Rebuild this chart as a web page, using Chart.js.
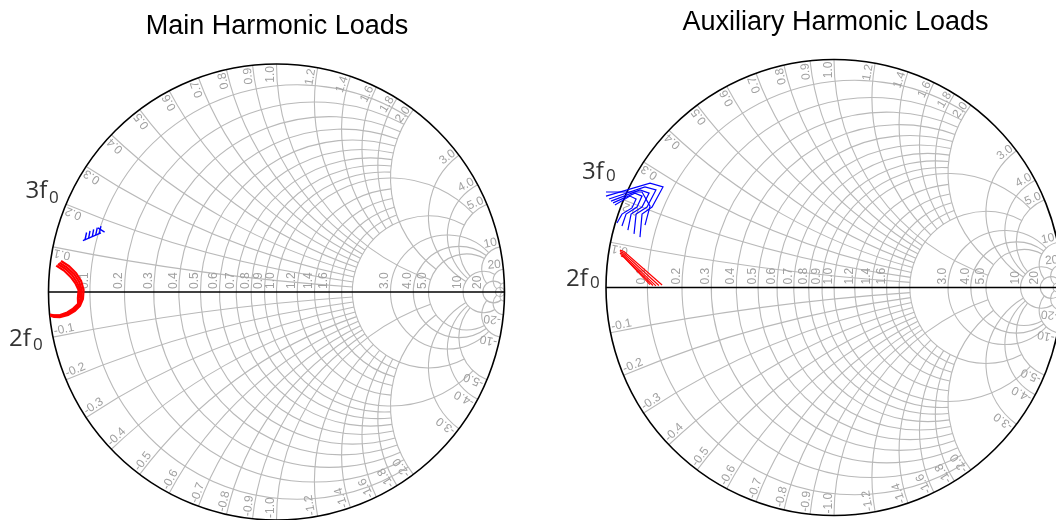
<!DOCTYPE html>
<html>
<head>
<meta charset="utf-8">
<title>Harmonic Loads</title>
<script src="https://cdn.jsdelivr.net/npm/chart.js@4.4.1/dist/chart.umd.min.js"></script>
<style>
  html, body { margin: 0; padding: 0; background: #fff; }
  #page { position: relative; width: 1056px; height: 520px; overflow: hidden; }
  canvas { position: absolute; top: 0; }
  #mainCanvas { left: 0; }
  #auxCanvas { left: 540px; }
  .title { position: absolute; font-family: "Liberation Sans", Arial, sans-serif; font-size: 27px; line-height: 27px; color: #000; white-space: nowrap; transform: translateX(-50%); }
  .harm { position: absolute; font-family: "Open Sans", sans-serif; font-size: 24px; line-height: 24px; color: #333; white-space: nowrap; }
  .harm.sub { font-size: 17px; line-height: 17px; }
</style>
</head>
<body>
<div id="page">
  <canvas id="mainCanvas" width="540" height="520"></canvas>
  <canvas id="auxCanvas" width="516" height="520"></canvas>
  <div class="title" style="left:277px;top:11.5px">Main Harmonic Loads</div>
  <div class="title" style="left:835.5px;top:7.5px">Auxiliary Harmonic Loads</div>
  <div class="harm" style="left:25.5px;top:177px">3f</div><div class="harm sub" style="left:49px;top:188px">0</div>
  <div class="harm" style="left:9px;top:325px">2f</div><div class="harm sub" style="left:33px;top:335px">0</div>
  <div class="harm" style="left:582px;top:158px">3f</div><div class="harm sub" style="left:606px;top:166px">0</div>
  <div class="harm" style="left:566px;top:265px">2f</div><div class="harm sub" style="left:590px;top:273px">0</div>
</div>
<script>
// Smith chart grid: circle values and where each circle / arc stops
const gridValues = [50, 20, 10, 5, 4, 3, 2, 1.8, 1.6, 1.4, 1.2, 1, 0.9, 0.8, 0.7, 0.6, 0.5, 0.4, 0.3, 0.2, 0.1];
const gridLimits = [Infinity, 50, 20, 10, 10, 10, 5, 2, 2, 2, 2, 5, 2, 2, 2, 2, 2, 2, 2, 2, 2];
const axisLabels = [0.1, 0.2, 0.3, 0.4, 0.5, 0.6, 0.7, 0.8, 0.9, 1, 1.2, 1.4, 1.6, 3, 4, 5, 10, 20];
const rimLabels = [0.1, 0.2, 0.3, 0.4, 0.5, 0.6, 0.7, 0.8, 0.9, 1, 1.2, 1.4, 1.6, 1.8, 2, 3, 4, 5, 10, 20];

// Main amplifier, second harmonic load sweeps (reflection coefficient)
const main2fRe = [
  [-0.945, -0.910, -0.879, -0.857, -0.846, -0.849, -0.862, -0.884, -0.914, -0.950, -0.976, -0.993],
  [-0.952, -0.918, -0.887, -0.866, -0.854, -0.856, -0.865, -0.886, -0.915, -0.950, -0.976, -0.993],
  [-0.959, -0.925, -0.895, -0.874, -0.861, -0.862, -0.867, -0.889, -0.916, -0.950, -0.976, -0.993],
  [-0.966, -0.932, -0.903, -0.882, -0.868, -0.871, -0.870, -0.892, -0.918, -0.949, -0.976, -0.993]
];
const main2fIm = [
  [0.136, 0.114, 0.083, 0.048, 0.009, -0.031, -0.061, -0.083, -0.101, -0.110, -0.109, -0.104],
  [0.129, 0.107, 0.078, 0.045, 0.009, -0.029, -0.058, -0.080, -0.097, -0.106, -0.106, -0.102],
  [0.123, 0.101, 0.072, 0.041, 0.009, -0.028, -0.055, -0.078, -0.096, -0.104, -0.104, -0.100],
  [0.116, 0.094, 0.066, 0.038, 0.009, -0.027, -0.052, -0.073, -0.090, -0.101, -0.102, -0.099]
];
// Main amplifier, third harmonic loads
const main3fRe = [
  [-0.849, -0.770], [-0.840, -0.833], [-0.824, -0.818], [-0.808, -0.802],
  [-0.793, -0.786], [-0.777, -0.770], [-0.783, -0.754]
];
const main3fIm = [
  [0.225, 0.259], [0.228, 0.261], [0.235, 0.268], [0.242, 0.275],
  [0.249, 0.282], [0.256, 0.289], [0.281, 0.263]
];
// Auxiliary amplifier, second harmonic loads
const aux2fRe = [
  [-0.939, -0.921, -0.754], [-0.939, -0.923, -0.768], [-0.939, -0.925, -0.781],
  [-0.936, -0.925, -0.794], [-0.934, -0.923, -0.807]
];
const aux2fIm = [
  [0.164, 0.158, 0.011], [0.158, 0.151, 0.009], [0.151, 0.145, 0.007],
  [0.145, 0.138, 0.009], [0.138, 0.134, 0.013]
];
// Auxiliary amplifier, third harmonic loads
const aux3fRe = [
  [-1.000, -0.807, -0.750, -0.798, -0.842, -0.851],
  [-0.987, -0.829, -0.781, -0.820, -0.868, -0.877],
  [-0.978, -0.851, -0.811, -0.842, -0.890, -0.904],
  [-0.969, -0.873, -0.842, -0.864, -0.912, -0.930],
  [-0.961, -0.895, -0.868, -0.886, -0.930, -0.952],
  [-1.000, -0.842, -0.807, -0.829]
];
const aux3fIm = [
  [0.401, 0.458, 0.441, 0.353, 0.322, 0.221],
  [0.388, 0.441, 0.428, 0.353, 0.322, 0.235],
  [0.379, 0.428, 0.414, 0.353, 0.322, 0.252],
  [0.371, 0.414, 0.401, 0.353, 0.322, 0.270],
  [0.362, 0.401, 0.388, 0.349, 0.322, 0.283],
  [0.419, 0.419, 0.357, 0.274]
];

function fmt(v) { return v >= 10 ? String(v) : v.toFixed(1); }
// reflection coefficient of a normalised impedance r + jx
function gamma(r, x) {
  const d = (r + 1) * (r + 1) + x * x;
  return { re: (r * r - 1 + x * x) / d, im: 2 * x / d };
}

const smithGrid = {
  id: 'smithGrid',
  beforeDatasetsDraw(chart) {
    const ctx = chart.ctx, sx = chart.scales.x, sy = chart.scales.y;
    const ox = sx.getPixelForValue(0), oy = sy.getPixelForValue(0);
    const k = sx.getPixelForValue(1) - ox;
    const P = (re, im) => [sx.getPixelForValue(re), sy.getPixelForValue(im)];
    const arcBetween = (cRe, cIm, rad, s, e) => {
      let d = e - s;
      while (d > Math.PI) d -= 2 * Math.PI;
      while (d <= -Math.PI) d += 2 * Math.PI;
      const [cx, cy] = P(cRe, cIm);
      ctx.beginPath();
      ctx.arc(cx, cy, rad * k, -s, -e, d > 0);
      ctx.stroke();
    };
    ctx.save();
    ctx.strokeStyle = '#b9b9b9';
    ctx.lineWidth = 1.1;
    gridValues.forEach((v, i) => {
      const lim = gridLimits[i];
      // constant resistance circle
      const c = v / (1 + v), rad = 1 / (1 + v);
      const [cx, cy] = P(c, 0);
      ctx.beginPath();
      if (!isFinite(lim)) {
        ctx.arc(cx, cy, rad * k, 0, 2 * Math.PI);
      } else {
        const g = gamma(v, lim);
        const a = Math.atan2(g.im, g.re - c);
        ctx.arc(cx, cy, rad * k, -a, a, true);
      }
      ctx.stroke();
      // constant reactance arcs, both signs
      [1, -1].forEach(sgn => {
        const x = sgn * v, cIm = 1 / x, rr = Math.abs(1 / x);
        const g0 = gamma(0, x);
        const g1 = isFinite(lim) ? gamma(lim, x) : { re: 1, im: 0 };
        arcBetween(1, cIm, rr, Math.atan2(g0.im - cIm, g0.re - 1), Math.atan2(g1.im - cIm, g1.re - 1));
      });
    });

    // value labels
    ctx.fillStyle = '#a0a0a0';
    ctx.font = '12px "Liberation Sans", Arial, sans-serif';
    ctx.textBaseline = 'alphabetic';
    axisLabels.forEach(v => {
      ctx.save();
      ctx.translate(sx.getPixelForValue((v - 1) / (v + 1)), oy);
      ctx.rotate(-Math.PI / 2);
      ctx.textAlign = 'left';
      ctx.fillText(fmt(v), 3, -2);
      ctx.restore();
    });
    rimLabels.forEach(v => {
      const g = gamma(0, v);
      const th = Math.atan2(g.im, g.re);
      ctx.save();
      ctx.translate(ox, oy);
      ctx.rotate(-th);
      ctx.textAlign = 'right';
      ctx.fillText(fmt(v), k - 2, -2);
      ctx.restore();
      ctx.save();
      ctx.translate(ox, oy);
      ctx.rotate(th - Math.PI);
      ctx.textAlign = 'left';
      ctx.fillText('-' + fmt(v), -k + 2, -2);
      ctx.restore();
    });

    // real axis and unit circle
    ctx.strokeStyle = '#000';
    ctx.lineWidth = 1.3;
    ctx.beginPath();
    ctx.moveTo(...P(-1, 0));
    ctx.lineTo(...P(1, 0));
    ctx.stroke();
    ctx.lineWidth = 1.6;
    ctx.beginPath();
    ctx.arc(ox, oy, k, 0, 2 * Math.PI);
    ctx.stroke();
    ctx.restore();
  }
};

function traces(reList, imList, color, width) {
  return reList.map((re, t) => ({
    data: re.map((r, j) => ({ x: r, y: imList[t][j] })),
    showLine: true,
    borderColor: color,
    backgroundColor: color,
    borderWidth: width,
    pointRadius: 0,
    tension: 0,
    fill: false
  }));
}

function smithChart(id, datasets, xr, yr) {
  return new Chart(document.getElementById(id), {
    type: 'scatter',
    data: { datasets },
    options: {
      responsive: false,
      animation: false,
      events: [],
      layout: { padding: 0, autoPadding: false },
      plugins: { legend: { display: false }, tooltip: { enabled: false }, title: { display: false } },
      scales: {
        x: { type: 'linear', display: false, min: xr[0], max: xr[1], grace: 0 },
        y: { type: 'linear', display: false, min: yr[0], max: yr[1], grace: 0 }
      }
    },
    plugins: [smithGrid]
  });
}

// 228 px per unit of reflection coefficient on both charts
smithChart('mainCanvas',
  [...traces(main2fRe, main2fIm, '#ff0000', 2.2), ...traces(main3fRe, main3fIm, '#0000ff', 1.4)],
  [-1.2127, 1.1557], [-1.0, 1.2807]);
smithChart('auxCanvas',
  [...traces(aux2fRe, aux2fIm, '#ff0000', 1.2), ...traces(aux3fRe, aux3fIm, '#0000ff', 1.2)],
  [-1.2895, 0.9737], [-1.0197, 1.2610]);
</script>
</body>
</html>
